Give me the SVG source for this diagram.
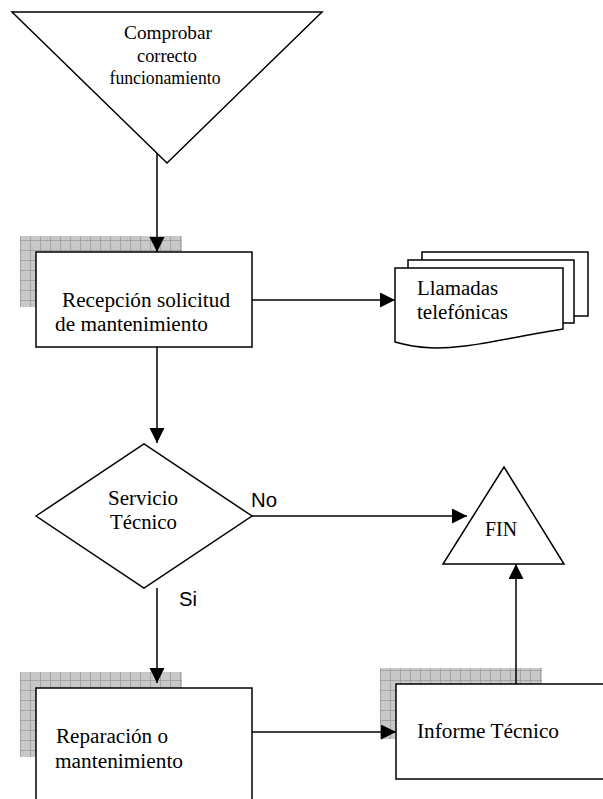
<svg xmlns="http://www.w3.org/2000/svg" width="603" height="799" viewBox="0 0 603 799">
<style>
.shape{fill:#fff;stroke:#000;stroke-width:1.5}
.shadow{fill:url(#grid)}
.conn{fill:none;stroke:#000;stroke-width:1.5}
.t{font-family:"Liberation Serif","Times New Roman",serif;font-size:20.5px;fill:#000}
.tt{font-family:"Liberation Serif","Times New Roman",serif;font-size:18.5px;fill:#000}
.s{font-family:"Liberation Sans",Arial,sans-serif;font-size:19.5px;fill:#000}
</style>
<defs>
<pattern id="grid" patternUnits="userSpaceOnUse" width="10" height="10">
<rect width="10" height="10" fill="#c8c8c8"/>
<path d="M0,0.5H10M0.5,0V10" stroke="#9c9c9c" stroke-width="0.8" fill="none"/>
</pattern>
<marker id="arr" markerUnits="userSpaceOnUse" markerWidth="16" markerHeight="16" refX="15" refY="7.5" orient="auto">
<path d="M0,0L15,7.5L0,15z" fill="#000"/>
</marker>
</defs>

<g id="comprobar">
<polygon class="shape" points="12,12 322,12 167,163"/>
<text class="tt" text-anchor="middle" x="168" y="39" textLength="88" lengthAdjust="spacingAndGlyphs">Comprobar</text>
<text class="tt" text-anchor="middle" x="167" y="62" textLength="60" lengthAdjust="spacingAndGlyphs">correcto</text>
<text class="tt" text-anchor="middle" x="165" y="84" textLength="111" lengthAdjust="spacingAndGlyphs">funcionamiento</text>
</g>

<g id="recepcion">
<rect class="shadow" x="20" y="236" width="162" height="71"/>
<rect class="shape" x="36" y="252" width="216" height="95"/>
<text class="t" x="62" y="307" textLength="168" lengthAdjust="spacingAndGlyphs">Recepción solicitud</text>
<text class="t" x="55" y="331" textLength="153" lengthAdjust="spacingAndGlyphs">de mantenimiento</text>
</g>

<g id="llamadas">
<rect class="shape" x="422" y="252" width="166" height="64"/>
<rect class="shape" x="408" y="260" width="166" height="63"/>
<path class="shape" d="M395,268H563V329C530,334 495,342 465,346C440,349 420,349 395,342Z"/>
<text class="t" x="417" y="295" textLength="81" lengthAdjust="spacingAndGlyphs">Llamadas</text>
<text class="t" x="417" y="319" textLength="91" lengthAdjust="spacingAndGlyphs">telefónicas</text>
</g>

<g id="servicio">
<polygon class="shape" points="36,516 144,444 252,516 144,588"/>
<text class="t" x="108" y="505" textLength="70" lengthAdjust="spacingAndGlyphs">Servicio</text>
<text class="t" x="110" y="529" textLength="67" lengthAdjust="spacingAndGlyphs">Técnico</text>
</g>

<g id="fin">
<polygon class="shape" points="504,467 564,564 443,564"/>
<text class="t" x="485" y="536" textLength="32" lengthAdjust="spacingAndGlyphs">FIN</text>
</g>

<g id="reparacion">
<rect class="shadow" x="20" y="672" width="162" height="85"/>
<rect class="shape" x="36" y="688" width="216" height="130"/>
<text class="t" x="56" y="743" textLength="112" lengthAdjust="spacingAndGlyphs">Reparación o</text>
<text class="t" x="55" y="768" textLength="128" lengthAdjust="spacingAndGlyphs">mantenimiento</text>
</g>

<g id="informe">
<rect class="shadow" x="380" y="668" width="162" height="71"/>
<rect class="shape" x="396" y="684" width="230" height="95"/>
<text class="t" x="417" y="738" textLength="142" lengthAdjust="spacingAndGlyphs">Informe Técnico</text>
</g>

<g id="connectors">
<path class="conn" d="M157,153V252" marker-end="url(#arr)"/>
<path class="conn" d="M157,347V443" marker-end="url(#arr)"/>
<path class="conn" d="M252,300H395" marker-end="url(#arr)"/>
<path class="conn" d="M252,516H467" marker-end="url(#arr)"/>
<path class="conn" d="M157,588V683" marker-end="url(#arr)"/>
<path class="conn" d="M252,732H396" marker-end="url(#arr)"/>
<path class="conn" d="M516,684V564" marker-end="url(#arr)"/>
<text class="s" x="251" y="507" textLength="26" lengthAdjust="spacingAndGlyphs">No</text>
<text class="s" x="179" y="606" textLength="18" lengthAdjust="spacingAndGlyphs">Si</text>
</g>
</svg>
